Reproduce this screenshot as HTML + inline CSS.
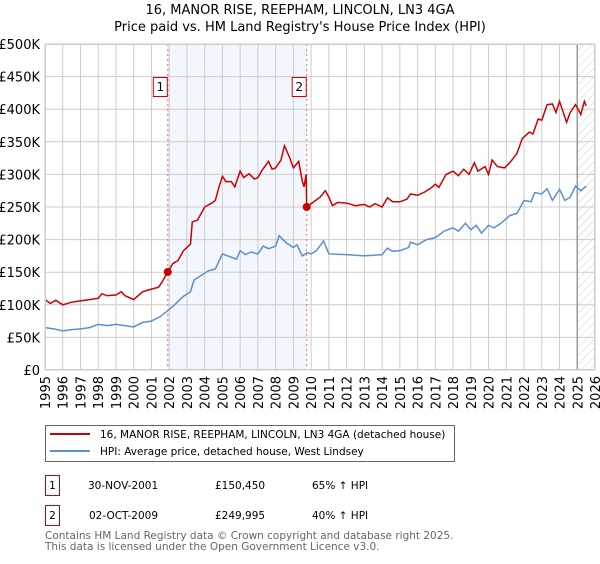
<!DOCTYPE html>
<html><head><meta charset="utf-8"><style>
body{margin:0;background:#fff;font-family:"DejaVu Sans","Liberation Sans",sans-serif;}
svg text{font-family:"DejaVu Sans","Liberation Sans",sans-serif;}
</style></head><body>
<svg id="chart" width="600" height="560" xmlns="http://www.w3.org/2000/svg">
<defs><pattern id="hatch" width="6" height="6" patternUnits="userSpaceOnUse" patternTransform="rotate(45)"><line x1="0" y1="0" x2="0" y2="6" stroke="#ccc" stroke-width="1"/></pattern></defs>
<text x="300" y="14" font-size="13" text-anchor="middle">16, MANOR RISE, REEPHAM, LINCOLN, LN3 4GA</text>
<text x="300" y="31" font-size="13" text-anchor="middle">Price paid vs. HM Land Registry's House Price Index (HPI)</text>
<g id="plot"></g>
<rect x="45.5" y="425.5" width="409" height="36" fill="#fff" stroke="#666"/>
<line x1="50" y1="434" x2="90" y2="434" stroke="#cc0000" stroke-width="2"/>
<text x="100" y="438" font-size="10.5">16, MANOR RISE, REEPHAM, LINCOLN, LN3 4GA (detached house)</text>
<line x1="50" y1="451" x2="90" y2="451" stroke="#5b8fd0" stroke-width="2"/>
<text x="100" y="455" font-size="10.5">HPI: Average price, detached house, West Lindsey</text>
<g font-size="10.5">
<rect x="45.5" y="475.5" width="14" height="20" fill="#fff" stroke="#cc0000"/>
<text x="52.5" y="489" text-anchor="middle">1</text>
<text x="88" y="489">30-NOV-2001</text><text x="215" y="489">£150,450</text><text x="312" y="489">65% ↑ HPI</text></g>
<g font-size="10.5">
<rect x="45.5" y="505.5" width="14" height="20" fill="#fff" stroke="#cc0000"/>
<text x="52.5" y="519" text-anchor="middle">2</text>
<text x="89" y="519">02-OCT-2009</text><text x="215" y="519">£249,995</text><text x="312" y="519">40% ↑ HPI</text></g>
<text x="45" y="539" font-size="10.5" fill="#666">Contains HM Land Registry data © Crown copyright and database right 2025.</text>
<text x="45" y="550" font-size="10.5" fill="#666">This data is licensed under the Open Government Licence v3.0.</text>
</svg>
<script>
const yTicks=[0,50,100,150,200,250,300,350,400,450,500];
const yTickLabels=["£0","£50K","£100K","£150K","£200K","£250K","£300K","£350K","£400K","£450K","£500K"];
const xYears=[1995,1996,1997,1998,1999,2000,2001,2002,2003,2004,2005,2006,2007,2008,2009,2010,2011,2012,2013,2014,2015,2016,2017,2018,2019,2020,2021,2022,2023,2024,2025,2026];
const saleDates=[2001.92,2009.75];
const salePrices=[150.45,249.995];
const saleLabels=["1","2"];
const redT=[1995,1995.3,1995.6,1996,1996.5,1997,1997.5,1998,1998.2,1998.5,1999,1999.3,1999.5,2000,2000.5,2001,2001.4,2001.6,2001.92,2002.2,2002.5,2002.8,2003.2,2003.3,2003.6,2004,2004.4,2004.6,2004.8,2005,2005.2,2005.5,2005.7,2006,2006.2,2006.5,2006.8,2007,2007.2,2007.6,2007.8,2008,2008.3,2008.5,2008.8,2009,2009.3,2009.5,2009.6,2009.72,2009.75,2010,2010.5,2010.8,2011,2011.2,2011.5,2012,2012.5,2013,2013.3,2013.6,2014,2014.3,2014.6,2015,2015.4,2015.6,2016,2016.4,2016.8,2017,2017.2,2017.6,2018,2018.3,2018.6,2018.9,2019.2,2019.4,2019.8,2020,2020.2,2020.5,2020.9,2021.2,2021.6,2021.9,2022.3,2022.5,2022.8,2023,2023.3,2023.6,2023.8,2024,2024.4,2024.6,2024.9,2025.2,2025.4,2025.5];
const redV=[108,102,107,100,104,106,108,110,117,114,115,120,114,108,120,124,127,135,150.45,163,168,183,193,227,230,250,256,260,280,297,289,289,281,305,295,301,293,295,305,320,308,310,322,344,325,310,320,290,281,300,249.995,255,265,275,265,252,257,256,252,254,250,255,250,264,258,258,262,270,268,273,280,285,280,300,305,298,308,300,318,305,312,300,322,312,310,318,332,355,365,362,385,383,407,408,395,412,380,395,407,392,412,405];
const blueT=[1995,1995.5,1996,1996.5,1997,1997.5,1998,1998.5,1999,1999.5,2000,2000.5,2001,2001.5,2001.92,2002.3,2002.8,2003.2,2003.4,2003.8,2004.2,2004.6,2005,2005.5,2005.8,2006,2006.3,2006.6,2007,2007.3,2007.6,2008,2008.2,2008.6,2009,2009.2,2009.5,2009.8,2010,2010.3,2010.7,2011,2012,2013,2014,2014.3,2014.6,2015,2015.5,2015.6,2016,2016.5,2017,2017.5,2018,2018.3,2018.7,2019,2019.3,2019.6,2020,2020.3,2020.7,2021.2,2021.6,2022,2022.4,2022.6,2023,2023.3,2023.6,2024,2024.3,2024.6,2024.9,2025.2,2025.5];
const blueV=[65,63,60,62,63,65,70,68,70,68,66,73,75,82,91,100,113,120,138,145,152,155,178,173,170,183,177,181,178,190,186,190,206,195,188,192,175,180,178,183,198,178,177,175,177,187,182,183,188,196,192,200,203,213,218,213,225,215,222,210,222,218,225,237,240,260,258,272,270,278,260,277,260,265,282,275,282];
const L=45,R=595,T=44,B=370;
const x=t=>L+(t-1995)*(R-L)/31;
const y=v=>B-v*(B-T)/500;
const NS="http://www.w3.org/2000/svg";
const g=document.getElementById('plot');
function mk(tag,at){const e=document.createElementNS(NS,tag);for(const k in at)e.setAttribute(k,at[k]);g.appendChild(e);return e;}
let e;
e=mk('rect',{x:x(saleDates[0]),y:T,width:x(saleDates[1])-x(saleDates[0]),height:B-T,fill:'#eef2fc',opacity:0.7});


e=mk('rect',{x:x(2025.0),y:T,width:R-x(2025.0),height:B-T,fill:'url(#hatch)'});


yTicks.forEach((v,i)=>{
 e=mk('line',{x1:L,x2:R,y1:y(v),y2:y(v),stroke:'#ccc'});
 
 
 e=mk('text',{x:L-5,y:y(v)+5,'font-size':13,'text-anchor':'end'});e.textContent=yTickLabels[i];
 
 
});
xYears.forEach(t=>{
 e=mk('line',{x1:x(t),x2:x(t),y1:T,y2:B,stroke:'#ccc'});
 
 
 e=mk('text',{x:0,y:0,'font-size':13,'text-anchor':'end',transform:`translate(${x(t)+5},${B+6}) rotate(-90)`});e.textContent=t;
 
 
});
e=mk('line',{x1:x(2025.0),x2:x(2025.0),y1:T,y2:B,stroke:'#999','stroke-width':1.5});


saleDates.forEach((d,i)=>{
 e=mk('line',{x1:x(d),x2:x(d),y1:T,y2:B,stroke:'#ff6666','stroke-dasharray':'2,3'});
 
 
});
e=mk('polyline',{points:blueT.map((t,i)=>x(t)+','+y(blueV[i])).join(' '),fill:'none',stroke:'#5b8fd0','stroke-width':1.5});


e=mk('polyline',{points:redT.map((t,i)=>x(t)+','+y(redV[i])).join(' '),fill:'none',stroke:'#cc0000','stroke-width':1.5});


saleDates.forEach((d,i)=>{
 e=mk('circle',{cx:x(d),cy:y(salePrices[i]),r:4,fill:'#cc0000'});
 
 
 e=mk('rect',{x:x(d)-14.5,y:77.5,width:14,height:19,fill:'#fff',stroke:'#cc0000'});
 
 
 e=mk('text',{x:x(d)-7.5,y:91,'font-size':12,'text-anchor':'middle'});e.textContent=saleLabels[i];
 
 
});
e=mk('rect',{x:L+0.5,y:T+0.5,width:R-L-1,height:B-T-1,fill:'none',stroke:'#ccc'});


</script>
</body></html>
